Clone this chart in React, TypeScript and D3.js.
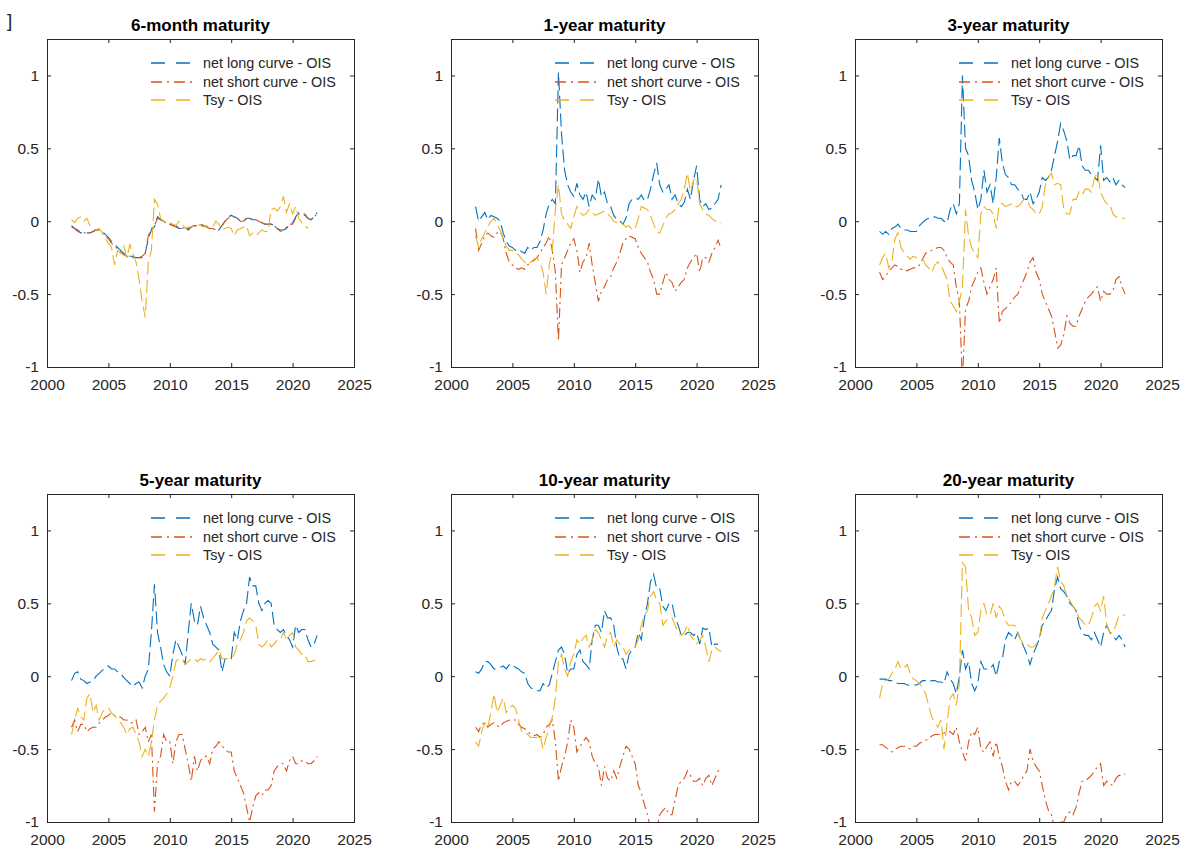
import { useEffect, useRef } from 'react'
import * as d3 from 'd3'

// quarterly observations, 2002Q1 .. 2022Q1 (81 points)
const startYear = 2002
const stepYears = 0.25

// 6-month maturity
const long6m = [
  -0.03, -0.05, -0.06, -0.08, -0.08, -0.08, -0.08, -0.07, -0.06, -0.06, -0.07, -0.09,
  -0.11, -0.14, -0.16, -0.18, -0.2, -0.22, -0.24, -0.24, -0.24, -0.25, -0.25, -0.25,
  -0.22, -0.12, -0.06, -0.04, 0.03, 0.01, 0.0, -0.01, -0.02, -0.03, -0.03, -0.05,
  -0.05, -0.04, -0.06, -0.04, -0.03, -0.03, -0.02, -0.03, -0.04, -0.05, -0.05, -0.06,
  -0.06, -0.03, 0.0, 0.03, 0.04, 0.03, 0.02, 0.0, 0.0, 0.02, 0.02, 0.01,
  0.01, 0.0, -0.01, -0.02, -0.02, -0.02, -0.03, -0.05, -0.06, -0.06, -0.05, -0.02,
  -0.01, 0.03, 0.06, 0.05, 0.05, 0.02, 0.01, 0.03, 0.06,
]
const short6m = [
  -0.04, -0.05, -0.07, -0.08, -0.08, -0.08, -0.08, -0.07, -0.06, -0.06, -0.08, -0.1,
  -0.12, -0.15, -0.17, -0.19, -0.21, -0.23, -0.24, -0.24, -0.25, -0.25, -0.25, -0.24,
  -0.22, -0.1, -0.05, -0.03, 0.02, 0.01, 0.0, -0.02, -0.02, -0.03, -0.04, -0.05,
  -0.05, -0.04, -0.05, -0.04, -0.03, -0.03, -0.02, -0.03, -0.04, -0.05, -0.05, -0.06,
  -0.06, -0.03, 0.0, 0.02, 0.03, 0.03, 0.02, 0.0, 0.0, 0.02, 0.02, 0.01,
  0.01, 0.0, -0.01, -0.02, -0.02, -0.02, -0.03, -0.05, -0.07, -0.06, -0.04, -0.02,
  -0.02, 0.02, 0.05, 0.04, 0.04, 0.02, 0.01, 0.03, 0.05,
]
const tsy6m = [
  0.01, -0.01, 0.02, 0.03, 0.0, 0.02, -0.03, -0.05, -0.06, -0.05, -0.08, -0.12,
  -0.15, -0.18, -0.3, -0.2, -0.22, -0.17, -0.25, -0.16, -0.22, -0.28, -0.4, -0.55,
  -0.66, -0.28, -0.2, 0.15, 0.12, 0.02, 0.0, -0.02, -0.01, -0.02, -0.03, 0.0,
  -0.01, -0.05, -0.04, -0.04, -0.03, -0.02, -0.03, -0.04, -0.03, -0.05, -0.04, 0.0,
  -0.02, -0.06, -0.05, -0.04, -0.05, -0.1, -0.06, -0.05, -0.04, -0.03, -0.1, -0.08,
  -0.1, -0.08, -0.06, -0.07, -0.07, 0.08, 0.09, 0.07, 0.1, 0.17, 0.06, 0.12,
  0.05, 0.1, 0.02, -0.01, -0.03, -0.05, null, null, null,
]

// 1-year maturity
const long1y = [
  0.1, 0.0, 0.03, 0.06, 0.01, 0.04, 0.03, 0.02, 0.0, -0.08, -0.14, -0.17,
  -0.18, -0.2, -0.19, -0.21, -0.22, -0.18, -0.2, -0.18, -0.18, -0.14, -0.06, 0.05,
  0.12, 0.15, 0.12, 1.02, 0.6, 0.35, 0.25, 0.2, 0.17, 0.26, 0.18, 0.15,
  0.2, 0.1, 0.18, 0.15, 0.29, 0.17, 0.2, 0.12, 0.1, 0.04, 0.01, 0.0,
  -0.02, 0.02, 0.12, 0.15, 0.16, 0.15, 0.18, 0.14, 0.15, 0.22, 0.32, 0.4,
  0.25, 0.2, 0.22, 0.25, 0.15, 0.18, 0.12, 0.1, 0.13, 0.22, 0.15, 0.28,
  0.38, 0.15, 0.1, 0.12, 0.08, 0.09, 0.12, 0.15, 0.25,
]
const short1y = [
  -0.05, -0.2, -0.15, -0.1, -0.08, -0.1, -0.11, -0.08, -0.07, -0.12, -0.22, -0.28,
  -0.3, -0.32, -0.33, -0.32, -0.33, -0.3, -0.28, -0.27, -0.25, -0.22, -0.18, -0.15,
  -0.1, -0.2, -0.35, -0.82, -0.3, -0.25, -0.2, -0.15, -0.12, -0.2, -0.35, -0.28,
  -0.25, -0.15, -0.3, -0.42, -0.55, -0.48, -0.45, -0.4, -0.38, -0.32, -0.28, -0.22,
  -0.15, -0.12, -0.1, -0.11, -0.12, -0.18, -0.22, -0.25, -0.28, -0.35, -0.4, -0.5,
  -0.5, -0.42, -0.35, -0.4, -0.42, -0.48, -0.45, -0.42, -0.4, -0.32, -0.28, -0.25,
  -0.22, -0.35, -0.25, -0.25, -0.28, -0.22, -0.18, -0.13, -0.19,
]
const tsy1y = [
  -0.1, -0.18, -0.12, -0.08, -0.04, 0.0, 0.02, -0.02, -0.06, -0.12, -0.17, -0.2,
  -0.2, -0.22, -0.23, -0.26, -0.28, -0.3, -0.28, -0.26, -0.25, -0.28, -0.35, -0.5,
  -0.3, -0.2, 0.08, 0.25, 0.05, 0.0, -0.02, -0.05, 0.03, 0.1, 0.06, 0.04,
  0.05, 0.08, 0.06, 0.04, 0.05, 0.06, 0.07, 0.05, 0.03, 0.0, -0.01, -0.02,
  -0.02, -0.04, -0.03, -0.06, -0.05, 0.02, 0.1, 0.09, 0.08, 0.04, -0.02, -0.07,
  -0.08, -0.03, 0.02, 0.05, 0.06, 0.08, 0.12, 0.15, 0.22, 0.33, 0.2, 0.28,
  0.3, 0.12, 0.08, 0.05, 0.04, 0.02, 0.0, 0.0, -0.02,
]

// 3-year maturity
const long3y = [
  -0.07, -0.09, -0.07, -0.09, -0.05, -0.04, -0.02, -0.05, -0.06, -0.06, -0.07, -0.07,
  -0.07, -0.03, -0.01, 0.01, 0.02, 0.03, 0.03, 0.02, 0.02, 0.0, -0.01, 0.08,
  0.12, 0.05, 0.12, 1.0, 0.5, 0.45, 0.28, 0.2, 0.08, 0.15, 0.35, 0.2,
  0.25, 0.12, 0.3, 0.57, 0.4, 0.32, 0.3, 0.25, 0.25, 0.22, 0.2, 0.15,
  0.15, 0.2, 0.12, 0.15, 0.2, 0.3, 0.28, 0.3, 0.35, 0.45, 0.55, 0.67,
  0.62, 0.55, 0.42, 0.45, 0.45, 0.52, 0.38, 0.35, 0.35, 0.32, 0.3, 0.28,
  0.52, 0.28, 0.3, 0.27, 0.3, 0.25, 0.28, 0.25, 0.23,
]
const short3y = [
  -0.35, -0.4, -0.38, -0.34, -0.32, -0.3, -0.31, -0.33, -0.33, -0.34, -0.33, -0.32,
  -0.32, -0.3, -0.26, -0.22, -0.21, -0.2, -0.19, -0.18, -0.18, -0.2, -0.25, -0.28,
  -0.3, -0.45, -0.55, -1.1, -0.6, -0.55, -0.45, -0.4, -0.35, -0.32, -0.42, -0.5,
  -0.45, -0.4, -0.32, -0.7, -0.62, -0.6, -0.58, -0.55, -0.52, -0.5, -0.45, -0.4,
  -0.35, -0.28, -0.25, -0.35, -0.4, -0.5, -0.55, -0.6, -0.65, -0.75, -0.87, -0.85,
  -0.78, -0.65, -0.7, -0.72, -0.72, -0.65, -0.6, -0.55, -0.52, -0.5, -0.47, -0.45,
  -0.55, -0.48, -0.5, -0.5, -0.48, -0.4, -0.38, -0.45, -0.5,
]
const tsy3y = [
  -0.3, -0.25, -0.22, -0.32, -0.28, -0.12, -0.08, -0.18, -0.22, -0.24, -0.26, -0.24,
  -0.25, -0.25, -0.26, -0.3, -0.32, -0.35, -0.3, -0.28, -0.3, -0.35, -0.4, -0.55,
  -0.58, -0.62, -0.55, -0.45, 0.08, -0.1, -0.18, -0.22, -0.25, 0.05, 0.1, 0.08,
  0.08, 0.05, -0.05, 0.12, 0.12, 0.1, 0.11, 0.12, 0.1, 0.1, 0.12, 0.15,
  0.15, 0.1, 0.08, 0.05, 0.05, 0.1, 0.25, 0.3, 0.33, 0.25, 0.26, 0.25,
  0.08, 0.05, 0.05, 0.15, 0.15, 0.2, 0.18, 0.22, 0.22, 0.2, 0.3, 0.33,
  0.2, 0.15, 0.12, 0.12, 0.05, 0.03, 0.03, 0.02, 0.02,
]

// 5-year maturity
const long5y = [
  -0.03, 0.02, 0.03, -0.02, -0.03, -0.05, -0.04, -0.03, 0.0, 0.02, 0.04, 0.06,
  0.07, 0.05, 0.05, 0.03, 0.02, -0.01, -0.03, -0.05, -0.07, -0.05, -0.04, -0.08,
  0.0, 0.05, 0.3, 0.63, 0.3, 0.2, 0.08, 0.03, 0.0, 0.15, 0.25, 0.2,
  0.15, 0.08, 0.3, 0.5, 0.38, 0.35, 0.48, 0.4, 0.35, 0.3, 0.22, 0.2,
  0.18, 0.03, 0.12, 0.12, 0.12, 0.3, 0.25, 0.38, 0.45, 0.5, 0.68, 0.62,
  0.62, 0.5, 0.45, 0.5, 0.52, 0.5, 0.35, 0.32, 0.3, 0.32, 0.28, 0.25,
  0.2, 0.35, 0.3, 0.32, 0.32, 0.25, 0.2, 0.22, 0.28,
]
const short5y = [
  -0.35, -0.3, -0.38, -0.33, -0.33, -0.38, -0.36, -0.35, -0.35, -0.32, -0.3, -0.28,
  -0.27, -0.25, -0.27, -0.28, -0.28, -0.3, -0.3, -0.32, -0.32, -0.3, -0.4, -0.38,
  -0.35, -0.45, -0.4, -0.93, -0.6, -0.55, -0.4, -0.45, -0.45, -0.6, -0.45, -0.4,
  -0.4, -0.5, -0.6, -0.72, -0.55, -0.65, -0.58, -0.55, -0.55, -0.6, -0.5, -0.48,
  -0.45, -0.48, -0.5, -0.52, -0.52, -0.65, -0.7, -0.75, -0.8, -0.9, -1.0, -0.9,
  -0.82, -0.8, -0.82, -0.78, -0.78, -0.75, -0.65, -0.62, -0.6, -0.6, -0.65, -0.58,
  -0.55, -0.6, -0.6, -0.58, -0.58, -0.6, -0.6, -0.58, -0.55,
]
const tsy5y = [
  -0.4, -0.3, -0.22, -0.28, -0.3, -0.15, -0.12, -0.25, -0.2, -0.3, -0.25, -0.22,
  -0.22, -0.25, -0.27, -0.3, -0.32, -0.35, -0.4, -0.36, -0.35, -0.4, -0.45, -0.55,
  -0.5, -0.55, -0.45, -0.3, -0.2, -0.17, -0.15, -0.12, -0.08, 0.0, 0.1, 0.12,
  0.12, 0.08, 0.1, 0.12, 0.12, 0.1, 0.12, 0.11, 0.12, 0.1, 0.12, 0.15,
  0.18, 0.12, 0.12, 0.12, 0.12, 0.15, 0.22, 0.25, 0.3, 0.38, 0.4, 0.38,
  0.35, 0.22, 0.2, 0.22, 0.25, 0.2, 0.22, 0.25, 0.25, 0.3, 0.25, 0.28,
  0.3, 0.2, 0.18, 0.15, 0.15, 0.1, 0.1, 0.11, 0.12,
]

// 10-year maturity
const long10y = [
  0.03, 0.02, 0.05, 0.1, 0.1, 0.08, 0.05, 0.05, 0.06, 0.07, 0.05, 0.08,
  0.08, 0.06, 0.05, 0.03, 0.02, -0.05, -0.08, -0.09, -0.1, -0.1, -0.05, -0.08,
  -0.06, 0.02, 0.1, 0.18, 0.2, 0.15, 0.02, 0.05, 0.05, 0.15, 0.18, 0.1,
  0.08, 0.05, 0.25, 0.35, 0.35, 0.3, 0.45, 0.4, 0.4, 0.35, 0.2, 0.12,
  0.12, 0.05, 0.15, 0.18, 0.2, 0.3, 0.25, 0.4, 0.5, 0.65, 0.7, 0.6,
  0.6, 0.48, 0.45, 0.5, 0.5, 0.4, 0.35, 0.28, 0.28, 0.3, 0.3, 0.28,
  0.3, 0.22, 0.33, 0.32, 0.33, 0.2, 0.22, 0.22, null,
]
const short10y = [
  -0.35, -0.38, -0.33, -0.32, -0.35, -0.33, -0.32, -0.34, -0.35, -0.32, -0.31, -0.3,
  -0.3, -0.3, -0.33, -0.35, -0.36, -0.38, -0.4, -0.41, -0.4, -0.42, -0.4, -0.35,
  -0.33, -0.3, -0.45, -0.72, -0.62, -0.55, -0.45, -0.3, -0.35, -0.52, -0.48, -0.45,
  -0.42, -0.45, -0.55, -0.6, -0.62, -0.75, -0.62, -0.7, -0.72, -0.65, -0.7, -0.62,
  -0.55, -0.48, -0.5, -0.55, -0.6, -0.75, -0.8, -0.88, -0.95, -1.05, -1.0, -1.05,
  -0.95, -0.92, -0.9, -0.95, -0.95, -0.85, -0.75, -0.72, -0.7, -0.65, -0.68, -0.72,
  -0.72, -0.7, -0.75, -0.7, -0.68, -0.75, -0.7, -0.65, -0.63,
]
const tsy10y = [
  -0.45, -0.48, -0.38, -0.32, -0.35, -0.25, -0.12, -0.25, -0.2, -0.15, -0.25, -0.22,
  -0.2, -0.22, -0.3, -0.38, -0.38, -0.4, -0.42, -0.42, -0.42, -0.4, -0.5, -0.42,
  -0.35, -0.28, -0.15, 0.1, 0.15, 0.05, 0.0, 0.1, 0.15, 0.25, 0.22, 0.26,
  0.28, 0.2, 0.25, 0.32, 0.3, 0.25, 0.2, 0.28, 0.3, 0.2, 0.25, 0.22,
  0.2, 0.15, 0.18, 0.2, 0.2, 0.25, 0.35, 0.42, 0.45, 0.55, 0.58, 0.52,
  0.5, 0.35, 0.38, 0.4, 0.4, 0.35, 0.3, 0.28, 0.3, 0.35, 0.28, 0.25,
  0.22, 0.25, 0.28, 0.2, 0.1, 0.18, 0.2, 0.18, 0.17,
]

// 20-year maturity
const long20y = [
  -0.02, -0.02, -0.02, -0.03, -0.03, -0.04, -0.05, -0.05, -0.05, -0.06, -0.06, -0.06,
  -0.06, -0.05, -0.03, -0.03, -0.04, -0.03, -0.03, -0.04, -0.04, -0.05, 0.03, -0.02,
  -0.05, -0.12, 0.0, 0.18, 0.05, 0.1, -0.05, -0.1, -0.05, 0.1, 0.05, 0.05,
  0.05, 0.08, 0.0, 0.1, 0.12, 0.25, 0.3, 0.28, 0.25, 0.3, 0.25, 0.2,
  0.15, 0.08, 0.15, 0.2, 0.25, 0.35, 0.38, 0.42, 0.45, 0.6, 0.68, 0.6,
  0.58, 0.55, 0.5, 0.48, 0.45, 0.35, 0.3, 0.28, 0.28, 0.25, 0.3, 0.25,
  0.2, 0.3, 0.35, 0.3, 0.28, 0.25, 0.28, 0.25, 0.2,
]
const short20y = [
  -0.47, -0.47, -0.49, -0.5, -0.52, -0.5, -0.49, -0.48, -0.48, -0.49, -0.5, -0.48,
  -0.48, -0.46, -0.45, -0.44, -0.43, -0.41, -0.4, -0.4, -0.4, -0.39, -0.38, -0.38,
  -0.4, -0.35, -0.45, -0.52, -0.58, -0.45, -0.38, -0.4, -0.35, -0.5, -0.52, -0.48,
  -0.45, -0.55, -0.45, -0.55, -0.62, -0.72, -0.78, -0.72, -0.72, -0.75, -0.72, -0.68,
  -0.65, -0.5, -0.58, -0.62, -0.65, -0.75, -0.85, -0.92, -0.95, -1.05, -1.05, -1.0,
  -1.0, -0.95, -0.93, -0.95, -0.9, -0.8, -0.72, -0.72, -0.7, -0.68, -0.65, -0.62,
  -0.6, -0.75, -0.72, -0.74, -0.75, -0.7, -0.68, -0.68, -0.67,
]
const tsy20y = [
  -0.15, -0.05, -0.03, -0.02, 0.02, 0.05, 0.1, 0.05, 0.06, 0.08, 0.02, -0.02,
  -0.03, -0.05, -0.08, -0.12, -0.2, -0.28, -0.32, -0.35, -0.3, -0.5, -0.32, -0.15,
  -0.12, -0.2, -0.05, 0.78, 0.75, 0.45, 0.4, 0.28, 0.3, 0.45, 0.5, 0.42,
  0.42, 0.5, 0.4, 0.48, 0.45, 0.38, 0.35, 0.35, 0.35, 0.3, 0.25, 0.22,
  0.22, 0.2, 0.2, 0.22, 0.25, 0.4, 0.45, 0.5, 0.55, 0.62, 0.75, 0.65,
  0.62, 0.55, 0.52, 0.48, 0.45, 0.4, 0.38, 0.35, 0.35, 0.4, 0.48, 0.5,
  0.45, 0.55, 0.35, 0.3, 0.3, 0.35, 0.42, 0.42, 0.42,
]

const titles = [
  '6-month maturity',
  '1-year maturity',
  '3-year maturity',
  '5-year maturity',
  '10-year maturity',
  '20-year maturity',
]
const legendLabels = ['net long curve - OIS', 'net short curve - OIS', 'Tsy - OIS']
const xTicks = [2000, 2005, 2010, 2015, 2020, 2025]
const yTicks = [-1, -0.5, 0, 0.5, 1]

const panelSeries = [
  [long6m, short6m, tsy6m],
  [long1y, short1y, tsy1y],
  [long3y, short3y, tsy3y],
  [long5y, short5y, tsy5y],
  [long10y, short10y, tsy10y],
  [long20y, short20y, tsy20y],
]

const colors = ['#0072BD', '#D95319', '#EDB120']
const lineDashes = ['13,5', '10,4,2,4', '13,5']
const legendDashes = ['14,11', '11,5,2,5', '14,11']
const axisColor = '#262626'
const font = '"Liberation Sans", Arial, Helvetica, sans-serif'

export default function App() {
  const ref = useRef<SVGSVGElement>(null)

  useEffect(() => {
    if (!ref.current) return
    const svg = d3.select(ref.current)
    svg.selectAll('*').remove()

    const W = 307
    const H = 328
    const lefts = [47, 451, 855]
    const tops = [39, 494]

    const x = d3.scaleLinear().domain([2000, 2025]).range([0, W])
    const y = d3.scaleLinear().domain([-1, 1.25]).range([H, 0])

    // stray bracket in the top-left corner of the original figure
    svg
      .append('text')
      .attr('x', 7)
      .attr('y', 27)
      .style('font', `19px ${font}`)
      .attr('fill', axisColor)
      .text(']')

    panelSeries.forEach((series, p) => {
      const g = svg
        .append('g')
        .attr('transform', `translate(${lefts[p % 3]},${tops[Math.floor(p / 3)]})`)

      const clipId = `clip-${p}`
      g.append('clipPath')
        .attr('id', clipId)
        .append('rect')
        .attr('width', W)
        .attr('height', H)

      // lines
      const lines = g.append('g').attr('clip-path', `url(#${clipId})`)
      series.forEach((vals, s) => {
        const line = d3
          .line<number | null>()
          .defined((d) => d != null)
          .x((_, i) => x(startYear + i * stepYears))
          .y((d) => y(d as number))
        lines
          .append('path')
          .attr('d', line(vals))
          .attr('fill', 'none')
          .attr('stroke', colors[s])
          .attr('stroke-width', 1.1)
          .attr('stroke-dasharray', lineDashes[s])
      })

      // axes, ticks pointing inward on all four sides
      const bottom = g
        .append('g')
        .attr('transform', `translate(0,${H})`)
        .call(
          d3
            .axisBottom(x)
            .tickValues(xTicks)
            .tickSizeInner(-4)
            .tickSizeOuter(0)
            .tickPadding(12)
            .tickFormat((d) => String(d))
        )
      const left = g.append('g').call(
        d3
          .axisLeft(y)
          .tickValues(yTicks)
          .tickSizeInner(-4)
          .tickSizeOuter(0)
          .tickPadding(8)
          .tickFormat((d) => String(d))
      )
      const top = g.append('g').call(
        d3.axisTop(x).tickValues(xTicks).tickSizeInner(-4).tickSizeOuter(0).tickFormat(() => '')
      )
      const right = g
        .append('g')
        .attr('transform', `translate(${W},0)`)
        .call(
          d3.axisRight(y).tickValues(yTicks).tickSizeInner(-4).tickSizeOuter(0).tickFormat(() => '')
        )
      ;[bottom, left, top, right].forEach((a) => {
        a.select('.domain').remove()
        a.selectAll('line').attr('stroke', axisColor)
        a.selectAll('text').attr('fill', axisColor).style('font', `15.5px ${font}`)
      })

      g.append('rect')
        .attr('x', 0.5)
        .attr('y', 0.5)
        .attr('width', W)
        .attr('height', H)
        .attr('fill', 'none')
        .attr('stroke', axisColor)
        .attr('stroke-width', 1)

      // title
      g.append('text')
        .attr('x', W / 2)
        .attr('y', -8.5)
        .attr('text-anchor', 'middle')
        .attr('fill', '#000')
        .style('font', `bold 17px ${font}`)
        .text(titles[p])

      // legend (no box)
      legendLabels.forEach((label, s) => {
        const ly = 24 + s * 18.5
        g.append('line')
          .attr('x1', 104)
          .attr('x2', 146)
          .attr('y1', Math.round(ly))
          .attr('y2', Math.round(ly))
          .attr('stroke', colors[s])
          .attr('stroke-width', 1.3)
          .attr('stroke-dasharray', legendDashes[s])
        g.append('text')
          .attr('x', 156)
          .attr('y', ly)
          .attr('dy', '0.35em')
          .attr('fill', axisColor)
          .style('font', `14.4px ${font}`)
          .text(label)
      })
    })
  }, [])

  return (
    <svg
      ref={ref}
      width={1183}
      height={850}
      style={{ position: 'absolute', left: 0, top: 0, background: '#fff' }}
    />
  )
}
